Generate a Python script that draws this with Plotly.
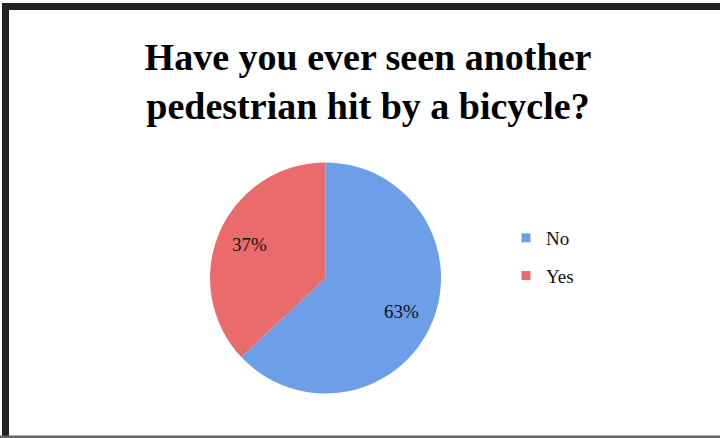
import numpy as np
import plotly.graph_objects as go

labels = ["No", "Yes"]
values = [63, 37]
colors = ["#6c9fe8", "#e96b6b"]
title_text = "Have you ever seen another<br>pedestrian hit by a bicycle?"

W, H = 720, 438
# pie geometry (pixels)
cx, cy, R = 325.5, 278, 115.5
label_r = 0.72

fig = go.Figure()
fig.add_trace(go.Pie(
    labels=labels,
    values=values,
    sort=False,
    direction="clockwise",
    rotation=0,
    marker=dict(colors=colors, line=dict(width=0)),
    textinfo="none",
    domain=dict(x=[(cx - R) / W, (cx + R) / W], y=[1 - (cy + R) / H, 1 - (cy - R) / H]),
    showlegend=False,
    hoverinfo="label+percent",
))

for lab, col in zip(labels, colors):
    fig.add_trace(go.Scatter(x=[None], y=[None], mode="markers", name=lab,
                             legendgroup=lab,
                             marker=dict(symbol="square", size=9, color=col)))

vals = np.array(values, dtype=float)
fr = vals / vals.sum()
cum = np.cumsum(fr) - fr / 2
annotations = []
for f, m in zip(fr, cum):
    ang = 2 * np.pi * m
    px = cx + label_r * R * np.sin(ang)
    py = cy - label_r * R * np.cos(ang)
    annotations.append(dict(x=px / W, y=1 - py / H, xref="paper", yref="paper",
                            xanchor="center", yanchor="middle",
                            text=f"{round(f * 100)}%", showarrow=False,
                            font=dict(family="Liberation Serif", size=19, color="#111")))

shapes = [
    dict(type="rect", xref="paper", yref="paper", x0=2 / W, x1=9 / W, y0=0, y1=1 - 3 / H,
         fillcolor="#222", line=dict(width=0)),
    dict(type="rect", xref="paper", yref="paper", x0=2 / W, x1=1, y0=1 - 10 / H, y1=1 - 3 / H,
         fillcolor="#222", line=dict(width=0)),
    dict(type="rect", xref="paper", yref="paper", x0=0, x1=1, y0=0, y1=2.5 / H,
         fillcolor="#666", line=dict(width=0)),
]

fig.update_layout(
    width=W, height=H,
    margin=dict(l=0, r=0, t=0, b=0),
    paper_bgcolor="white",
    plot_bgcolor="white",
    shapes=shapes,
    annotations=annotations,
    xaxis=dict(visible=False),
    yaxis=dict(visible=False),
    title=dict(text=title_text, x=368 / W, y=1 - 70 / H, xanchor="center", yanchor="middle",
               xref="paper", yref="paper",
               font=dict(family="Liberation Serif", size=38, color="#000", weight="bold")),
    legend=dict(x=506 / W, y=1 - 219 / H, xanchor="left", yanchor="top",
                font=dict(family="Liberation Serif", size=19, color="#111"),
                tracegroupgap=10, itemwidth=30,
                bgcolor="rgba(0,0,0,0)"),
)

fig.write_html("out.html", config={"displayModeBar": False},
               post_script="document.body.style.margin='0';document.body.style.overflow='hidden';")
